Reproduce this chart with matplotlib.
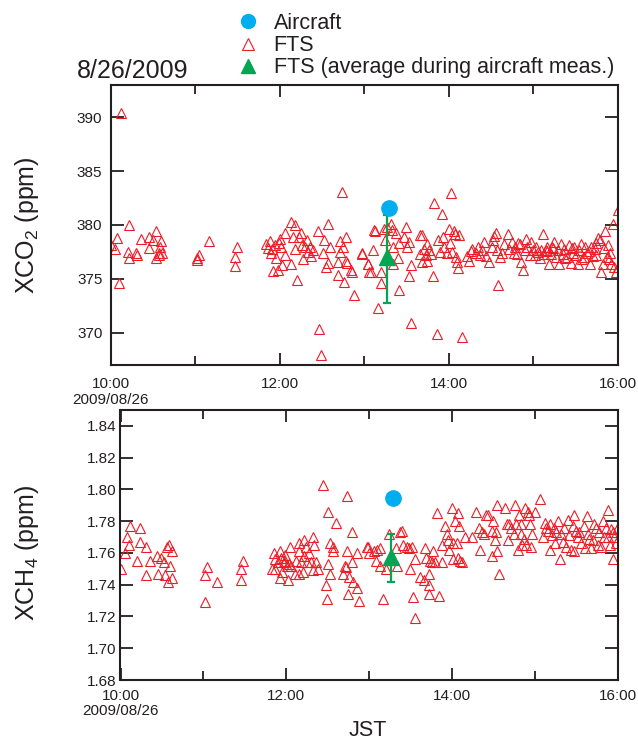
import matplotlib
matplotlib.use("Agg")
import matplotlib.pyplot as plt
from matplotlib.lines import Line2D
from matplotlib.ticker import FormatStrFormatter

plt.rcParams["font.family"] = ["Liberation Sans", "DejaVu Sans"]
plt.rcParams["mathtext.default"] = "regular"

# ---- data (time in decimal hours JST) ----
co2_time = [
    10.127, 10.00, 10.05, 10.08, 10.10, 10.22, 10.20, 10.22, 10.30, 10.31, 10.36, 10.45,
    10.45, 10.50, 10.54, 10.58, 10.59, 10.57, 10.54, 10.61, 10.57, 11.02, 11.04, 11.02,
    11.16, 11.49, 11.47, 11.47, 11.84, 11.86, 11.89, 11.90, 11.91, 11.92, 11.94, 11.96,
    11.98, 11.99, 12.00, 12.02, 12.03, 12.06, 12.06, 12.13, 12.13, 12.16, 12.18, 12.18,
    12.20, 12.23, 12.25, 12.26, 12.28, 12.30, 12.32, 12.34, 12.36, 12.37, 12.40, 12.45,
    12.47, 12.49, 12.51, 12.52, 12.55, 12.57, 12.57, 12.60, 12.69, 12.69, 12.71, 12.72,
    12.74, 12.75, 12.76, 12.78, 12.79, 12.80, 12.85, 12.86, 12.88, 12.97, 13.05, 13.06,
    12.98, 13.05, 13.08, 13.10, 13.12, 13.13, 13.17, 13.20, 13.20, 13.24, 13.25, 13.27,
    13.32, 13.33, 13.34, 13.34, 13.38, 13.40, 13.41, 13.41, 13.47, 13.50, 13.51, 13.53,
    13.55, 13.55, 13.53, 13.66, 13.69, 13.66, 13.69, 13.71, 13.73, 13.74, 13.75, 13.77,
    13.79, 13.81, 13.83, 13.86, 13.87, 13.90, 13.92, 13.94, 13.95, 13.98, 14.00, 14.03,
    14.02, 14.04, 14.06, 14.08, 14.09, 14.11, 14.12, 14.10, 14.16, 14.22, 14.24, 14.28,
    14.32, 14.35, 14.37, 14.40, 14.44, 14.48, 14.51, 14.53, 14.54, 14.56, 14.57, 14.59,
    14.61, 14.66, 14.70, 14.72, 14.75, 14.77, 14.79, 14.81, 14.84, 14.86, 14.88, 14.90,
    14.92, 14.93, 14.96, 14.98, 15.00, 15.03, 15.06, 15.09, 15.12, 15.13, 15.15, 15.17,
    15.19, 15.21, 15.23, 15.25, 15.27, 15.29, 15.31, 15.33, 15.35, 15.37, 15.40, 15.43,
    15.45, 15.47, 15.49, 15.51, 15.53, 15.55, 15.57, 15.60, 15.62, 15.64, 15.67, 15.69,
    15.71, 15.73, 15.75, 15.77, 15.79, 15.81, 15.83, 15.85, 15.87, 15.89, 15.91, 15.92,
    15.95, 15.96, 15.98, 16.00, 16.00,
    14.26, 14.42, 14.63, 14.82, 15.02, 15.08, 15.16, 15.24, 15.38, 15.46, 15.58, 15.66,
    15.74, 15.84, 15.90,
]
co2_val = [
    390.4, 378.1, 377.8, 378.8, 374.6, 380.0, 377.5, 376.9, 377.4, 377.2, 378.7, 378.9,
    377.9, 378.6, 379.4, 378.0, 378.5, 377.4, 376.9, 377.4, 377.2, 376.9, 377.2, 376.75,
    378.5, 378.0, 377.0, 376.2, 378.2, 377.9, 378.5, 377.4, 377.8, 375.7, 378.1, 376.9,
    375.8, 378.3, 378.7, 378.0, 376.3, 379.3, 377.2, 380.3, 376.4, 378.9, 380.0, 377.8,
    374.9, 378.9, 379.3, 378.1, 376.8, 378.0, 378.6, 377.5, 378.0, 377.1, 377.7, 379.4,
    370.3, 367.9, 377.4, 378.6, 376.1, 376.5, 380.1, 378.0, 376.6, 375.4, 378.5, 377.5,
    383.1, 378.0, 374.7, 376.7, 378.9, 376.5, 375.8, 375.6, 373.5, 377.4, 376.4, 375.6,
    377.3, 376.4, 375.6, 377.7, 379.5, 379.4, 372.3, 375.6, 374.6, 379.6, 378.6, 379.8,
    380.1, 379.5, 378.0, 376.4, 379.3, 376.9, 378.3, 374.0, 378.9, 379.8, 378.0, 378.4,
    376.3, 370.9, 375.3, 379.1, 379.1, 377.3, 376.6, 377.8, 377.2, 378.2, 376.7, 377.7,
    377.3, 375.3, 382.0, 369.9, 378.6, 377.5, 381.0, 378.9, 378.0, 377.4, 379.6, 383.0,
    378.3, 377.5, 379.4, 379.2, 377.0, 376.0, 379.1, 376.6, 369.6, 377.1, 376.7, 377.8,
    377.4, 378.0, 377.2, 377.7, 377.1, 376.6, 378.0, 378.6, 379.0, 379.3, 377.7, 374.4,
    377.0, 378.2, 379.2, 377.8, 378.4, 377.4, 378.0, 377.3, 378.2, 376.6, 375.8, 377.7,
    378.7, 378.0, 377.2, 378.4, 377.7, 378.0, 377.5, 377.7, 379.2, 377.3, 377.7, 378.0,
    376.4, 377.3, 378.0, 378.4, 377.0, 377.7, 376.4, 378.2, 377.3, 377.8, 377.0, 378.1,
    376.5, 377.4, 378.0, 377.2, 376.4, 377.7, 378.2, 377.0, 378.0, 377.4, 376.4, 378.0,
    377.1, 377.8, 378.3, 378.8, 378.6, 375.6, 376.4, 379.4, 377.0, 378.1, 377.4, 376.4,
    380.1, 376.1, 375.6, 381.4, 376.1,
    377.6, 378.4, 377.4, 378.3, 377.2, 376.9, 377.6, 377.9, 376.9, 377.9, 376.8, 377.6,
    377.2, 377.9, 376.8,
]

ch4_time = [
    10.01, 10.05, 10.08, 10.10, 10.12, 10.20, 10.23, 10.23, 10.31, 10.31, 10.36, 10.44,
    10.45, 10.49, 10.53, 10.54, 10.56, 10.57, 10.59, 10.60, 10.62, 10.62, 11.04, 11.02,
    11.02, 11.17, 11.48, 11.46, 11.46, 11.85, 11.83, 11.86, 11.87, 11.90, 11.92, 11.92,
    11.94, 11.95, 11.97, 11.98, 11.99, 12.01, 12.02, 12.03, 12.05, 12.06, 12.11, 12.12,
    12.16, 12.16, 12.16, 12.18, 12.20, 12.21, 12.22, 12.24, 12.25, 12.28, 12.30, 12.32,
    12.32, 12.34, 12.36, 12.38, 12.44, 12.48, 12.49, 12.51, 12.51, 12.53, 12.53, 12.56,
    12.57, 12.60, 12.69, 12.71, 12.72, 12.73, 12.73, 12.75, 12.76, 12.79, 12.79, 12.81,
    12.86, 12.86, 12.88, 12.97, 13.00,
    12.99, 13.06, 13.08, 13.10, 13.13, 13.13, 13.17, 13.20, 13.24, 13.32, 13.34, 13.38,
    13.40, 13.41, 13.46, 13.48, 13.50, 13.52, 13.53, 13.55, 13.56, 13.62, 13.67, 13.68,
    13.69, 13.72, 13.72, 13.73, 13.74, 13.76, 13.77, 13.80, 13.82, 13.85, 13.88, 13.88,
    13.92, 13.94, 13.95, 13.97, 14.00, 14.01, 14.02, 14.04, 14.06, 14.07, 14.08, 14.09,
    14.10, 14.12, 14.16, 14.24, 14.29, 14.33, 14.34, 14.36, 14.39, 14.41, 14.44, 14.48,
    14.49, 14.50, 14.52, 14.53, 14.54, 14.55, 14.57, 14.64, 14.66, 14.68, 14.69, 14.72,
    14.75, 14.76, 14.78, 14.80, 14.81, 14.83, 14.84, 14.85, 14.87, 14.88, 14.90, 14.92,
    14.93, 14.94, 14.96, 14.97, 15.00, 15.06, 15.10, 15.12, 15.14, 15.16, 15.18, 15.19,
    15.21, 15.23, 15.25, 15.26, 15.28, 15.30, 15.32, 15.34, 15.36, 15.38, 15.40, 15.42,
    15.44, 15.46, 15.47, 15.48, 15.50, 15.52, 15.54, 15.56, 15.59, 15.61, 15.63, 15.64,
    15.66, 15.68, 15.70, 15.72, 15.74, 15.76, 15.78, 15.80, 15.82, 15.84, 15.86, 15.88,
    15.89, 15.91, 15.92, 15.94, 15.95, 15.96, 15.98, 15.99,
]
ch4_val = [
    1.750, 1.760, 1.770, 1.765, 1.777, 1.755, 1.767, 1.776, 1.764, 1.746, 1.755, 1.758,
    1.747, 1.757, 1.754, 1.746, 1.764, 1.742, 1.765, 1.752, 1.761, 1.744, 1.751, 1.746,
    1.729, 1.742, 1.755, 1.750, 1.743, 1.760, 1.750, 1.750, 1.756, 1.754, 1.744, 1.761,
    1.757, 1.748, 1.754, 1.755, 1.759, 1.752, 1.743, 1.753, 1.764, 1.752, 1.747, 1.755,
    1.766, 1.761, 1.747, 1.754, 1.748, 1.768, 1.758, 1.764, 1.754, 1.760, 1.754, 1.770,
    1.749, 1.765, 1.754, 1.750, 1.803, 1.740, 1.731, 1.786, 1.753, 1.766, 1.747, 1.764,
    1.761, 1.779, 1.747, 1.752, 1.751, 1.761, 1.796, 1.734, 1.745, 1.773, 1.754, 1.742,
    1.760, 1.738, 1.730, 1.764, 1.760,
    1.764, 1.761, 1.755, 1.762, 1.763, 1.752, 1.731, 1.750, 1.772, 1.763, 1.752, 1.773,
    1.774, 1.765, 1.764, 1.763, 1.750, 1.764, 1.732, 1.719, 1.756, 1.745, 1.743, 1.763,
    1.757, 1.747, 1.734, 1.740, 1.755, 1.754, 1.761, 1.754, 1.785, 1.733, 1.754, 1.765,
    1.777, 1.772, 1.768, 1.762, 1.788, 1.756, 1.766, 1.780, 1.766, 1.785, 1.757, 1.777,
    1.755, 1.754, 1.770, 1.770, 1.786, 1.776, 1.762, 1.773, 1.772, 1.784, 1.784, 1.758,
    1.774, 1.780, 1.768, 1.773, 1.761, 1.790, 1.747, 1.788, 1.778, 1.768, 1.778, 1.776,
    1.772, 1.790, 1.778, 1.762, 1.784, 1.772, 1.778, 1.765, 1.769, 1.788, 1.765, 1.786,
    1.784, 1.778, 1.764, 1.772, 1.786, 1.794, 1.770, 1.779, 1.776, 1.774, 1.778, 1.762,
    1.771, 1.776, 1.766, 1.773, 1.780, 1.756, 1.772, 1.767, 1.776, 1.764, 1.781, 1.771,
    1.762, 1.777, 1.784, 1.761, 1.774, 1.770, 1.773, 1.766, 1.777, 1.763, 1.783, 1.772,
    1.769, 1.763, 1.768, 1.778, 1.776, 1.765, 1.773, 1.764, 1.780, 1.770, 1.776, 1.787,
    1.770, 1.765, 1.775, 1.773, 1.756, 1.770, 1.766, 1.775,
]

aircraft_time = 13.29
aircraft_co2 = 381.6
aircraft_ch4 = 1.7944

avg_time = 13.27
avg_co2 = 377.0
avg_co2_err = [[4.2], [3.9]]      # lower, upper
avg_ch4 = 1.7575
avg_ch4_err = [[0.0161], [0.0142]]

hour_ticks = [10, 12, 14, 16]
hour_labels = ["10:00\n2009/08/26", "12:00", "14:00", "16:00"]

# ---- style ----
red = "#ee1c25"
blue = "#00aeef"
green = "#00a651"
dark = "#231f20"

fig = plt.figure(figsize=(6.38, 7.40), dpi=100)
W, H = 638.0, 740.0
ax1 = fig.add_axes([110.7 / W, 1 - 365 / H, (617.5 - 110.7) / W, (365 - 85) / H])
ax2 = fig.add_axes([120.5 / W, 1 - 680 / H, (617.5 - 120.5) / W, (680 - 410) / H])


def draw(ax, t, v, air, avg, err):
    ax.plot(t, v, linestyle="none", marker="^", ms=7.5, mfc="none", mec=red,
            mew=0.8, zorder=2)
    ax.errorbar([avg_time], [avg], yerr=err, fmt="^", ms=12, color=green,
                ecolor=green, elinewidth=1.6, capsize=3, capthick=1.6, zorder=3)
    ax.plot([aircraft_time], [air], linestyle="none", marker="o", ms=11,
            color=blue, zorder=4)


draw(ax1, co2_time, co2_val, aircraft_co2, avg_co2, avg_co2_err)
draw(ax2, ch4_time, ch4_val, aircraft_ch4, avg_ch4, avg_ch4_err)

ax1.set_ylim(367, 393)
ax1.set_yticks([370, 375, 380, 385, 390])
ax2.set_ylim(1.68, 1.85)
ax2.set_yticks([1.68, 1.70, 1.72, 1.74, 1.76, 1.78, 1.80, 1.82, 1.84])
ax2.yaxis.set_major_formatter(FormatStrFormatter("%.2f"))

for ax, ypad, xpad in [(ax1, 6, 9), (ax2, 3, 6.5)]:
    ax.set_xlim(10, 16)
    ax.set_xticks(hour_ticks)
    ax.set_xticklabels(hour_labels, linespacing=1.1)
    ax.set_xticks([11, 13, 15], minor=True)
    ax.tick_params(which="both", direction="in", top=True, right=True,
                   color=dark, width=1.3, labelsize=11, labelcolor=dark)
    ax.tick_params(axis="y", which="major", length=9.5, pad=ypad)
    ax.tick_params(axis="x", which="major", length=8.5, pad=xpad)
    ax.tick_params(axis="x", which="minor", length=6.5)
    for s in ax.spines.values():
        s.set_linewidth(1.5)
        s.set_color(dark)

fig.text(27 / W, 1 - 225 / H, "XCO$_2$ (ppm)", rotation=90, ha="center",
         va="center", fontsize=18, color=dark)
fig.text(27 / W, 1 - 553 / H, "XCH$_4$ (ppm)", rotation=90, ha="center",
         va="center", fontsize=18, color=dark)
fig.text(368 / W, 1 - 731 / H, "JST", ha="center", va="center",
         fontsize=15.5, color=dark)
fig.text(77 / W, 1 - 77.5 / H, "8/26/2009", ha="left", va="baseline",
         fontsize=18, color=dark)

# legend
handles = [
    Line2D([], [], ls="none", marker="o", ms=10, color=blue),
    Line2D([], [], ls="none", marker="^", ms=9, mfc="none", mec=red, mew=0.8),
    Line2D([], [], ls="none", marker="^", ms=10, color=green),
]
labels = ["Aircraft", "FTS", "FTS (average during aircraft meas.)"]
fig.legend(handles, labels, loc="upper left", bbox_to_anchor=(238 / W, 1 - 13 / H),
           frameon=False, fontsize=15.5, handlelength=0.9, handletextpad=0.75,
           labelspacing=0.05, borderpad=0, borderaxespad=0, labelcolor=dark)

fig.savefig("out.png", dpi=100)
